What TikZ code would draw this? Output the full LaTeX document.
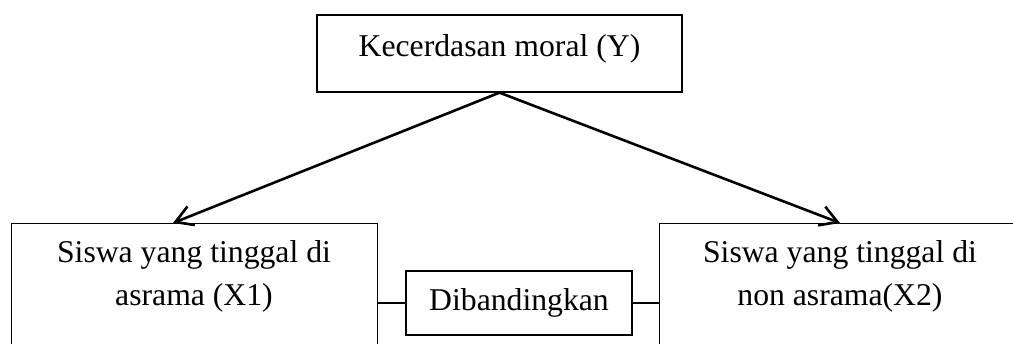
\documentclass[tikz,border=0pt]{standalone}
\usepackage{fontspec}
\setmainfont{Liberation Serif}
\usetikzlibrary{arrows.meta}

\tikzset{
  box/.style={draw=black, line width=1.3pt, rectangle, inner sep=0pt},
  lbl/.style={inner sep=0pt, align=center,
    font=\fontsize{31.7pt}{43pt}\selectfont},
  link/.style={draw=black, line width=1.5pt},
  flow/.style={draw=black, line width=2.6pt,
    -{Straight Barb[length=17pt,width=20pt]}}
}

\begin{document}
\begin{tikzpicture}[x=1pt, y=-1pt]
  \useasboundingbox (0,0) rectangle (1013,344);
  \clip (0,0) rectangle (1013,344);

  % boxes
  \node[box, minimum width=365pt, minimum height=77pt] (top) at (499.5,53.5) {};
  \node[box, minimum width=366pt, minimum height=160pt, anchor=north west] (left) at (11,223) {};
  \node[box, minimum width=362pt, minimum height=160pt, anchor=north west] (right) at (659,223) {};
  \node[box, minimum width=226pt, minimum height=64pt] (mid) at (519,303) {};

  % texts (base anchor = baseline of the last line)
  \node[lbl, anchor=base] (ttop) at (499.5,57) {Kecerdasan moral (Y)};
  \node[lbl, anchor=base] (tleft) at (194,306) {Siswa yang tinggal di\\asrama (X1)};
  \node[lbl, anchor=base] (tright) at (840,306) {Siswa yang tinggal di\\non asrama(X2)};
  \node[lbl, anchor=base] (tmid) at (519,311) {Dibandingkan};

  % arrow tips on the lower boxes
  \coordinate (tipL) at (173,223);
  \coordinate (tipR) at (840,223);

  \draw[flow] (top.south) -- (tipL);
  \draw[flow] (top.south) -- (tipR);

  % comparison links
  \draw[link] (mid.west) -- (mid.west -| left.east);
  \draw[link] (mid.east) -- (mid.east -| right.west);
\end{tikzpicture}
\end{document}
